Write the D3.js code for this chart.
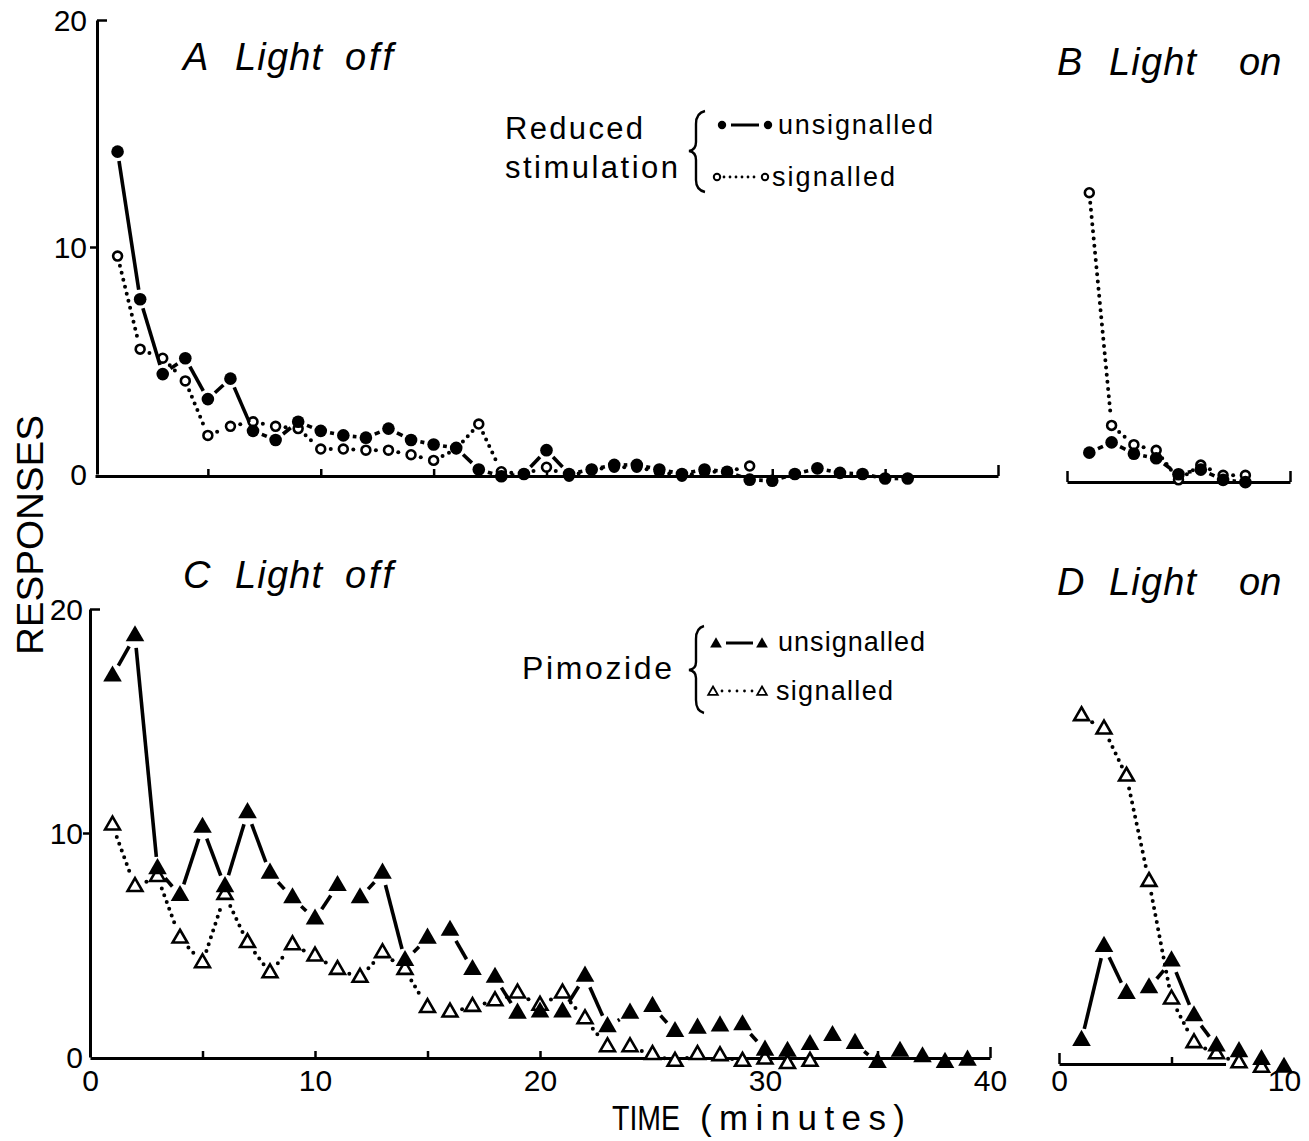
<!DOCTYPE html>
<html>
<head>
<meta charset="utf-8">
<script src="https://cdn.jsdelivr.net/npm/d3@7"></script>
<style>
body { margin:0; background:#fff; }
svg { display:block; }
text { font-family: "Liberation Sans", "DejaVu Sans", sans-serif; fill:#000; }
</style>
</head>
<body>
<svg id="chart" width="1309" height="1141"></svg>
<script>
// responses per minute, starting at minute 1
// A: reduced stimulation, light off
var aUnsignalled = [14.2, 7.7, 4.4, 5.1, 3.3, 4.2, 1.9, 1.5, 2.3, 1.9, 1.7, 1.6, 2.0, 1.5, 1.3, 1.15, 0.2, -0.1,
                    0, 1.05, 0, 0.2, 0.4, 0.4, 0.2, 0, 0.2, 0.1, -0.25, -0.3, 0, 0.25, 0.05, 0, -0.2, -0.2];
var aSignalled   = [9.6, 5.5, 5.1, 4.1, 1.7, 2.1, 2.3, 2.1, 2.0, 1.1, 1.1, 1.05, 1.05, 0.85, 0.6, 1.1, 2.2, 0.1,
                    0, 0.3, -0.1, 0.2, 0.3, 0.3, 0.1, -0.1, 0.1, 0.1, 0.35];
// B: reduced stimulation, light on
var bUnsignalled = [1.25, 1.7, 1.2, 1.0, 0.3, 0.5, 0.05, -0.05];
var bSignalled   = [12.7, 2.45, 1.6, 1.35, 0.05, 0.7, 0.25, 0.25];
// C: pimozide, light off
var cUnsignalled = [17.0, 18.8, 8.4, 7.2, 10.25, 7.6, 10.9, 8.2, 7.1, 6.15, 7.65, 7.1, 8.2, 4.3, 5.3, 5.65, 3.9, 3.55,
                    1.95, 2.0, 2.0, 3.6, 1.35, 1.95, 2.25, 1.13, 1.28, 1.38, 1.43, 0.3, 0.25, 0.55, 0.95, 0.6,
                    -0.25, 0.25, 0, -0.25, -0.15];
var cSignalled   = [10.35, 7.6, 8.05, 5.3, 4.2, 7.25, 5.1, 3.75, 5.0, 4.5, 3.9, 3.55, 4.65, 3.9, 2.2, 2.0, 2.25, 2.5,
                    2.85, 2.3, 2.85, 1.7, 0.45, 0.45, 0.1, -0.2, 0.1, 0.05, -0.2, -0.1, -0.3, -0.2];
// D: pimozide, light on
var dUnsignalled = [1.0, 5.2, 3.1, 3.35, 4.55, 2.1, 0.75, 0.5, 0.15, -0.2];
var dSignalled   = [15.5, 14.9, 12.8, 8.1, 2.85, 0.9, 0.4, 0, -0.2];

var yTicks = [0, 10, 20];
var xTicksLong = [0, 10, 20, 30, 40];
var xTicksShort = [0, 10];

const svg = d3.select("#chart");

// one pair of scales per panel
var xA = d3.scaleLinear().domain([0, 40]).range([95, 998]),
    yA = d3.scaleLinear().domain([0, 20]).range([474, 20]),
    xB = d3.scaleLinear().domain([0, 10]).range([1067, 1290]),
    yB = d3.scaleLinear().domain([0, 20]).range([481, 27]),
    xC = d3.scaleLinear().domain([0, 40]).range([90, 990]),
    yC = d3.scaleLinear().domain([0, 20]).range([1057, 609]),
    xD = d3.scaleLinear().domain([0, 10]).range([1059, 1284]),
    yD = d3.scaleLinear().domain([0, 20]).range([1063, 615]);

// cut a polyline into pieces that stop short of the markers
function pieces(pts, gap){
    var out = [];
    for (var i = 0; i < pts.length - 1; i++){
        var a = pts[i], b = pts[i+1];
        var dx = b[0]-a[0], dy = b[1]-a[1], L = Math.sqrt(dx*dx + dy*dy);
        if (L <= 2*gap + 2) continue;
        var ux = dx/L, uy = dy/L;
        out.push([[a[0]+ux*gap, a[1]+uy*gap], [b[0]-ux*gap, b[1]-uy*gap]]);
    }
    return out;
}

function drawSeries(vals, x, y, opt){
    var pts = vals.map((v, i) => [x(i+1), y(v)]);
    var g = svg.append("g");
    g.selectAll("path.seg")
        .data(pieces(pts, opt.gap))
        .enter().append("path")
        .attr("class", "seg")
        .attr("d", d3.line())
        .attr("fill", "none")
        .attr("stroke", "#000")
        .attr("stroke-width", opt.dotted ? 4 : 3.6)
        .attr("stroke-linecap", opt.dotted ? "round" : "butt")
        .attr("stroke-dasharray", opt.dotted ? "0 7.2" : null)
        .attr("stroke-dashoffset", opt.dotted ? -2 : null);

    var m = g.selectAll("path.mk")
        .data(pts)
        .enter().append("path")
        .attr("class", "mk")
        .attr("transform", d => `translate(${d[0]},${d[1]})`)
        .attr("d", d3.symbol(opt.shape === "tri" ? d3.symbolTriangle : d3.symbolCircle, opt.size)());
    if (opt.filled){
        m.attr("fill", "#000");
    } else {
        m.attr("fill", "#fff").attr("stroke", "#000").attr("stroke-width", 2.6);
    }
}

// ---- axes ----
function yAxis(y, xpos, pad){
    var g = svg.append("g")
        .attr("transform", `translate(${xpos},0)`)
        .call(d3.axisLeft(y).tickValues(yTicks).tickFormat(d3.format("d"))
              .tickSize(7).tickPadding(pad).tickSizeOuter(0));
    g.select(".domain").attr("stroke-width", 3);
    g.selectAll(".tick line").attr("stroke-width", 2.5);
    g.selectAll(".tick").filter(d => d === 0).select("line").remove();
    g.selectAll(".tick").filter(d => d === 20).select("line").attr("x2", 10);
    g.selectAll(".tick text").attr("font-size", 30).attr("dy", "0.36em");
    return g;
}

function xAxis(x, ypos, ticks, ends){
    var g = svg.append("g")
        .attr("transform", `translate(0,${ypos})`)
        .call(d3.axisBottom(x).tickValues(ticks).tickFormat("")
              .tickSize(-7).tickSizeOuter(0));
    g.select(".domain").attr("stroke-width", 3);
    g.selectAll(".tick line").attr("stroke-width", 2.5);
    g.selectAll(".tick").filter(d => ends.indexOf(d) >= 0).select("line").attr("y2", -11);
    return g;
}

function xLabels(x, ypos, ticks){
    var g = svg.append("g")
        .attr("transform", `translate(0,${ypos})`)
        .call(d3.axisBottom(x).tickValues(ticks).tickFormat(d3.format("d"))
              .tickSize(0).tickPadding(12));
    g.select(".domain").remove();
    g.selectAll(".tick text").attr("font-size", 30);
}

yAxis(yA, 97, 3);
yAxis(yC, 90, 0);
xAxis(xA, 476, [5, 10, 15, 20, 25, 30, 35, 40], [40]);
xAxis(xB, 482, [0, 10], [0, 10]);
xAxis(xC, 1058, [5, 10, 15, 20, 25, 30, 35, 40], [40]);
// the light-on axis of D stops short of 10 minutes
xAxis(xD.copy().domain([0, 7.4]).range([xD(0), xD(7.4)]), 1064, [0, 5], [0]);
xLabels(xC, 1058, xTicksLong);
xLabels(xD, 1058, xTicksShort);

// ---- data ----
var circFilled = {shape: "circle", filled: true,  size: 125, gap: 9.5, dotted: false};
var circOpen   = {shape: "circle", filled: false, size: 62,  gap: 8,   dotted: true};
var triFilled  = {shape: "tri",    filled: true,  size: 150, gap: 12,  dotted: false};
var triOpen    = {shape: "tri",    filled: false, size: 95,  gap: 10.5, dotted: true};

drawSeries(aSignalled, xA, yA, circOpen);
drawSeries(aUnsignalled, xA, yA, circFilled);
drawSeries(bSignalled, xB, yB, circOpen);
drawSeries(bUnsignalled, xB, yB, circFilled);
drawSeries(cSignalled, xC, yC, triOpen);
drawSeries(cUnsignalled, xC, yC, triFilled);
drawSeries(dSignalled, xD, yD, triOpen);
drawSeries(dUnsignalled, xD, yD, triFilled);

// ---- text ----
function txt(s, x, y, size, len, italic, adj){
    var t = svg.append("text").attr("x", x).attr("y", y).attr("font-size", size).text(s);
    if (len) t.attr("textLength", len).attr("lengthAdjust", adj || "spacing");
    if (italic) t.attr("font-style", "italic");
    return t;
}

// panel titles
[["A", "off", 183, 70], ["B", "on", 1057, 75], ["C", "off", 183, 588], ["D", "on", 1057, 595]].forEach(p => {
    txt(p[0], p[2], p[3], 38, null, true);
    txt("Light", p[2] + 52, p[3], 38, 87, true);
    if (p[1] === "off") txt("off", p[2] + 162, p[3], 38, 48, true);
    else txt("on", p[2] + 182, p[3], 38, null, true);
});

svg.append("text")
    .attr("transform", "translate(43,535) rotate(-90)")
    .attr("text-anchor", "middle")
    .attr("font-size", 37)
    .attr("textLength", 240).attr("lengthAdjust", "spacingAndGlyphs")
    .text("RESPONSES");

txt("TIME", 612, 1130, 35, 68, false, "spacingAndGlyphs");
txt("(minutes)", 700, 1130, 35, 205);

// legends
txt("Reduced", 505, 139, 31, 138);
txt("stimulation", 505, 178, 31, 173);
txt("unsignalled", 778, 134, 27, 155);
txt("signalled", 772, 186, 27, 123);
txt("Pimozide", 522, 679, 32, 150);
txt("unsignalled", 778, 651, 27, 147);
txt("signalled", 776, 700, 27, 117);

svg.append("path")
    .attr("d", "M705,111 Q696,113 696,124 L696,142 Q696,150 689,151 Q696,152 696,160 L696,180 Q696,190 705,192")
    .attr("fill", "none").attr("stroke", "#000").attr("stroke-width", 2.4);
svg.append("path")
    .attr("d", "M704,626 Q696,628 696,639 L696,662 Q696,669 689,670 Q696,671 696,678 L696,700 Q696,711 704,713")
    .attr("fill", "none").attr("stroke", "#000").attr("stroke-width", 2.4);

// legend keys
var lg = svg.append("g");
lg.append("path").attr("d", d3.symbol(d3.symbolCircle, 55)()).attr("transform", "translate(722,125)");
lg.append("path").attr("d", d3.symbol(d3.symbolCircle, 55)()).attr("transform", "translate(768,125)");
lg.append("line").attr("x1", 731).attr("x2", 759).attr("y1", 125).attr("y2", 125).attr("stroke", "#000").attr("stroke-width", 3);
[717, 765].forEach(x => lg.append("circle").attr("cx", x).attr("cy", 177).attr("r", 3.2)
    .attr("fill", "#fff").attr("stroke", "#000").attr("stroke-width", 2));
lg.append("line").attr("x1", 724).attr("x2", 759).attr("y1", 177).attr("y2", 177).attr("stroke", "#000")
    .attr("stroke-width", 2.8).attr("stroke-linecap", "round").attr("stroke-dasharray", "0 6");

lg.append("path").attr("d", d3.symbol(d3.symbolTriangle, 60)()).attr("transform", "translate(716,644)");
lg.append("path").attr("d", d3.symbol(d3.symbolTriangle, 60)()).attr("transform", "translate(762,644)");
lg.append("line").attr("x1", 726).attr("x2", 753).attr("y1", 643).attr("y2", 643).attr("stroke", "#000").attr("stroke-width", 3);
[713, 762].forEach(x => lg.append("path").attr("d", d3.symbol(d3.symbolTriangle, 40)())
    .attr("transform", `translate(${x},692)`).attr("fill", "#fff").attr("stroke", "#000").attr("stroke-width", 1.8));
lg.append("line").attr("x1", 722).attr("x2", 755).attr("y1", 691).attr("y2", 691).attr("stroke", "#000")
    .attr("stroke-width", 2.8).attr("stroke-linecap", "round").attr("stroke-dasharray", "0 7.5");
</script>
</body>
</html>
